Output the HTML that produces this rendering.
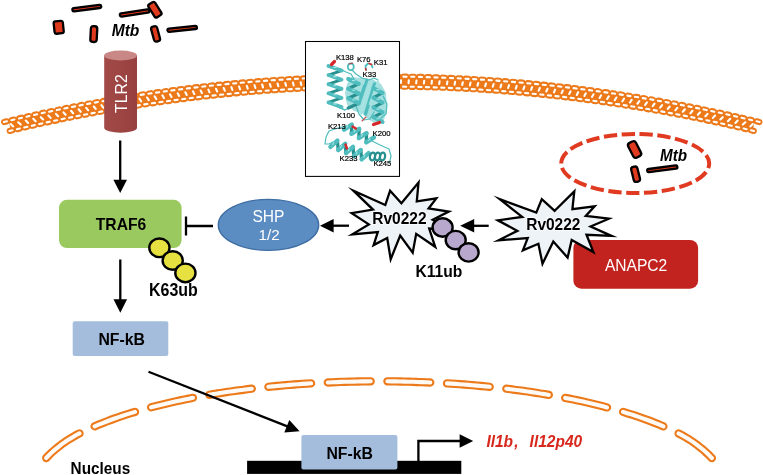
<!DOCTYPE html>
<html>
<head>
<meta charset="utf-8">
<title>Rv0222 signalling diagram</title>
<style>
html,body{margin:0;padding:0;background:#fff;}
body{width:763px;height:475px;overflow:hidden;font-family:"Liberation Sans",sans-serif;}
svg{display:block;position:absolute;left:0;top:0;will-change:transform;}
text{font-family:"Liberation Sans",sans-serif;}
.b{font-weight:bold;font-size:15.5px;fill:#000;}
.bi{font-weight:bold;font-style:italic;font-size:15.2px;fill:#000;}
.k{font-size:7.7px;fill:#000;stroke:#000;stroke-width:0.2px;}
</style>
</head>
<body>
<svg width="763" height="475" viewBox="0 0 763 475">
<defs>
<linearGradient id="cyl" x1="0" x2="1" y1="0" y2="0">
<stop offset="0" stop-color="#A34A48"/><stop offset="0.5" stop-color="#9C4543"/><stop offset="1" stop-color="#97403F"/>
</linearGradient>
</defs>
<rect width="763" height="475" fill="#fff"/>

<!-- plasma membrane -->
<g id="membrane">
<path d="M9.8 125.8A1585.0 1585.0 0 0 1 753.7 125.8" fill="none" stroke="#EC7A1A" stroke-width="9.6" stroke-linecap="butt"/>
<path d="M4.2 122.0L6.6 121.4M759.3 122.0L756.9 121.4M11.8 120.1L14.1 119.6M751.7 120.1L749.4 119.6M19.3 118.4L21.6 117.8M744.2 118.4L741.9 117.8M26.9 116.6L29.2 116.1M736.6 116.6L734.3 116.1M34.4 114.9L36.8 114.4M729.1 114.9L726.7 114.4M42.0 113.2L44.3 112.7M721.5 113.2L719.2 112.7M49.6 111.6L51.9 111.1M713.9 111.6L711.6 111.1M57.2 110.0L59.5 109.5M706.3 110.0L704.0 109.5M64.8 108.4L67.1 107.9M698.7 108.4L696.4 107.9M72.4 106.9L74.7 106.4M691.1 106.9L688.8 106.4M80.0 105.4L82.3 104.9M683.5 105.4L681.2 104.9M87.6 103.9L89.9 103.5M675.9 103.9L673.6 103.5M95.2 102.5L97.6 102.1M668.3 102.5L665.9 102.1M102.8 101.2L105.2 100.7M660.7 101.2L658.3 100.7M110.5 99.8L112.8 99.4M653.0 99.8L650.7 99.4M118.1 98.5L120.5 98.1M645.4 98.5L643.0 98.1M125.8 97.2L128.1 96.9M637.7 97.2L635.4 96.9M133.4 96.0L135.8 95.6M630.1 96.0L627.7 95.6M141.1 94.8L143.5 94.5M622.4 94.8L620.0 94.5M148.8 93.7L151.1 93.3M614.7 93.7L612.4 93.3M156.4 92.5L158.8 92.2M607.1 92.5L604.7 92.2M164.1 91.5L166.5 91.1M599.4 91.5L597.0 91.1M171.8 90.4L174.2 90.1M591.7 90.4L589.3 90.1M179.5 89.4L181.9 89.1M584.0 89.4L581.6 89.1M187.2 88.4L189.6 88.2M576.3 88.4L573.9 88.2M194.9 87.5L197.3 87.2M568.6 87.5L566.2 87.2M202.6 86.6L205.0 86.4M560.9 86.6L558.5 86.4M210.3 85.8L212.7 85.5M553.2 85.8L550.8 85.5M218.0 85.0L220.4 84.7M545.5 85.0L543.1 84.7M225.7 84.2L228.1 83.9M537.8 84.2L535.4 83.9M233.4 83.4L235.8 83.2M530.1 83.4L527.7 83.2M241.2 82.7L243.5 82.5M522.3 82.7L520.0 82.5M248.9 82.1L251.3 81.9M514.6 82.1L512.2 81.9M256.6 81.4L259.0 81.2M506.9 81.4L504.5 81.2M264.3 80.8L266.7 80.7M499.2 80.8L496.8 80.7M272.1 80.3L274.5 80.1M491.4 80.3L489.0 80.1M279.8 79.8L282.2 79.6M483.7 79.8L481.3 79.6M287.6 79.3L289.9 79.2M475.9 79.3L473.6 79.2M295.3 78.9L297.7 78.7M468.2 78.9L465.8 78.7M303.0 78.4L305.4 78.3M460.5 78.4L458.1 78.3M310.8 78.1L313.2 78.0M452.7 78.1L450.3 78.0M318.5 77.8L320.9 77.7M445.0 77.8L442.6 77.7M326.3 77.5L328.7 77.4M437.2 77.5L434.8 77.4M334.0 77.2L336.4 77.1M429.5 77.2L427.1 77.1M341.8 77.0L344.2 76.9M421.7 77.0L419.3 76.9M349.5 76.8L351.9 76.8M414.0 76.8L411.6 76.8M357.3 76.7L359.7 76.7M406.2 76.7L403.8 76.7M365.0 76.6L367.4 76.6M398.5 76.6L396.1 76.6M372.8 76.5L375.2 76.5M390.7 76.5L388.3 76.5M380.6 76.5L382.9 76.5M9.8 130.9L12.2 130.3M753.7 130.9L751.3 130.3M17.3 129.1L19.6 128.6M746.2 129.1L743.9 128.6M24.7 127.4L27.0 126.8M738.8 127.4L736.5 126.8M32.1 125.7L34.5 125.1M731.4 125.7L729.0 125.1M39.6 124.0L41.9 123.5M723.9 124.0L721.6 123.5M47.0 122.4L49.4 121.9M716.5 122.4L714.1 121.9M54.5 120.8L56.9 120.3M709.0 120.8L706.6 120.3M62.0 119.2L64.3 118.7M701.5 119.2L699.2 118.7M69.5 117.7L71.8 117.2M694.0 117.7L691.7 117.2M77.0 116.2L79.3 115.7M686.5 116.2L684.2 115.7M84.5 114.7L86.8 114.3M679.0 114.7L676.7 114.3M92.0 113.3L94.3 112.9M671.5 113.3L669.2 112.9M99.5 111.9L101.8 111.5M664.0 111.9L661.7 111.5M107.0 110.6L109.4 110.2M656.5 110.6L654.1 110.2M114.5 109.3L116.9 108.9M649.0 109.3L646.6 108.9M122.1 108.0L124.4 107.6M641.4 108.0L639.1 107.6M129.6 106.8L132.0 106.4M633.9 106.8L631.5 106.4M137.1 105.6L139.5 105.2M626.4 105.6L624.0 105.2M144.7 104.4L147.1 104.0M618.8 104.4L616.4 104.0M152.2 103.3L154.6 102.9M611.3 103.3L608.9 102.9M159.8 102.2L162.2 101.8M603.7 102.2L601.3 101.8M167.4 101.1L169.7 100.8M596.1 101.1L593.8 100.8M174.9 100.1L177.3 99.8M588.6 100.1L586.2 99.8M182.5 99.1L184.9 98.8M581.0 99.1L578.6 98.8M190.1 98.2L192.5 97.9M573.4 98.2L571.0 97.9M197.7 97.3L200.0 97.0M565.8 97.3L563.5 97.0M205.3 96.4L207.6 96.1M558.2 96.4L555.9 96.1M212.8 95.6L215.2 95.3M550.7 95.6L548.3 95.3M220.4 94.8L222.8 94.5M543.1 94.8L540.7 94.5M228.0 94.0L230.4 93.8M535.5 94.0L533.1 93.8M235.6 93.3L238.0 93.0M527.9 93.3L525.5 93.0M243.2 92.6L245.6 92.4M520.3 92.6L517.9 92.4M250.9 91.9L253.3 91.7M512.6 91.9L510.2 91.7M258.5 91.3L260.9 91.1M505.0 91.3L502.6 91.1M266.1 90.7L268.5 90.6M497.4 90.7L495.0 90.6M273.7 90.2L276.1 90.0M489.8 90.2L487.4 90.0M281.3 89.7L283.7 89.5M482.2 89.7L479.8 89.5M289.0 89.2L291.3 89.1M474.5 89.2L472.2 89.1M296.6 88.8L299.0 88.7M466.9 88.8L464.5 88.7M304.2 88.4L306.6 88.3M459.3 88.4L456.9 88.3M311.8 88.0L314.2 87.9M451.7 88.0L449.3 87.9M319.5 87.7L321.9 87.6M444.0 87.7L441.6 87.6M327.1 87.4L329.5 87.4M436.4 87.4L434.0 87.4M334.7 87.2L337.1 87.1M428.8 87.2L426.4 87.1M342.4 87.0L344.8 86.9M421.1 87.0L418.7 86.9M350.0 86.8L352.4 86.8M413.5 86.8L411.1 86.8M357.6 86.7L360.0 86.6M405.9 86.7L403.5 86.6M365.3 86.6L367.7 86.6M398.2 86.6L395.8 86.6M372.9 86.5L375.3 86.5M390.6 86.5L388.2 86.5M380.6 86.5L382.9 86.5" fill="none" stroke="#EC7A1A" stroke-width="6.3" stroke-linecap="round"/>
<path d="M3.9 122.1L6.9 121.3M9.5 131.0L12.5 130.3M759.6 122.1L756.6 121.3M754.0 131.0L751.0 130.3M11.4 120.2L14.4 119.5M16.9 129.2L19.9 128.5M752.1 120.2L749.1 119.5M746.6 129.2L743.6 128.5M19.0 118.4L22.0 117.7M24.3 127.5L27.4 126.8M744.5 118.4L741.5 117.7M739.2 127.5L736.1 126.8M26.5 116.7L29.5 116.0M31.8 125.7L34.8 125.1M737.0 116.7L734.0 116.0M731.7 125.7L728.7 125.1M34.1 115.0L37.1 114.3M39.2 124.1L42.3 123.4M729.4 115.0L726.4 114.3M724.3 124.1L721.2 123.4M41.7 113.3L44.7 112.6M46.7 122.4L49.7 121.8M721.8 113.3L718.8 112.6M716.8 122.4L713.8 121.8M49.2 111.7L52.3 111.0M54.2 120.8L57.2 120.2M714.3 111.7L711.2 111.0M709.3 120.8L706.3 120.2M56.8 110.1L59.9 109.4M61.6 119.3L64.7 118.6M706.7 110.1L703.6 109.4M701.9 119.3L698.8 118.6M64.4 108.5L67.5 107.9M69.1 117.7L72.2 117.1M699.1 108.5L696.0 107.9M694.4 117.7L691.3 117.1M72.0 107.0L75.1 106.4M76.6 116.2L79.7 115.6M691.5 107.0L688.4 106.4M686.9 116.2L683.8 115.6M79.6 105.5L82.7 104.9M84.1 114.8L87.2 114.2M683.9 105.5L680.8 104.9M679.4 114.8L676.3 114.2M87.2 104.0L90.3 103.4M91.6 113.4L94.7 112.8M676.3 104.0L673.2 103.4M671.9 113.4L668.8 112.8M94.9 102.6L97.9 102.0M99.1 112.0L102.2 111.4M668.6 102.6L665.6 102.0M664.4 112.0L661.3 111.4M102.5 101.2L105.6 100.7M106.7 110.6L109.7 110.1M661.0 101.2L657.9 100.7M656.8 110.6L653.8 110.1M110.1 99.9L113.2 99.3M114.2 109.3L117.2 108.8M653.4 99.9L650.3 99.3M649.3 109.3L646.3 108.8M117.8 98.6L120.8 98.1M121.7 108.0L124.8 107.5M645.7 98.6L642.7 98.1M641.8 108.0L638.7 107.5M125.4 97.3L128.5 96.8M129.2 106.8L132.3 106.3M638.1 97.3L635.0 96.8M634.3 106.8L631.2 106.3M133.1 96.1L136.1 95.6M136.8 105.6L139.8 105.1M630.4 96.1L627.4 95.6M626.7 105.6L623.7 105.1M140.7 94.9L143.8 94.4M144.3 104.4L147.4 104.0M622.8 94.9L619.7 94.4M619.2 104.4L616.1 104.0M148.4 93.7L151.5 93.3M151.9 103.3L155.0 102.9M615.1 93.7L612.0 93.3M611.6 103.3L608.5 102.9M156.1 92.6L159.2 92.2M159.4 102.2L162.5 101.8M607.4 92.6L604.3 92.2M604.1 102.2L601.0 101.8M163.8 91.5L166.8 91.1M167.0 101.2L170.1 100.7M599.7 91.5L596.7 91.1M596.5 101.2L593.4 100.7M171.4 90.5L174.5 90.1M174.6 100.1L177.7 99.7M592.1 90.5L589.0 90.1M588.9 100.1L585.8 99.7M179.1 89.5L182.2 89.1M182.2 99.2L185.2 98.8M584.4 89.5L581.3 89.1M581.3 99.2L578.3 98.8M186.8 88.5L189.9 88.1M189.7 98.2L192.8 97.8M576.7 88.5L573.6 88.1M573.8 98.2L570.7 97.8M194.5 87.6L197.6 87.2M197.3 97.3L200.4 96.9M569.0 87.6L565.9 87.2M566.2 97.3L563.1 96.9M202.2 86.7L205.3 86.3M204.9 96.4L208.0 96.1M561.3 86.7L558.2 86.3M558.6 96.4L555.5 96.1M209.9 85.8L213.0 85.5M212.5 95.6L215.6 95.3M553.6 85.8L550.5 85.5M551.0 95.6L547.9 95.3M217.7 85.0L220.7 84.7M220.1 94.8L223.2 94.5M545.8 85.0L542.8 84.7M543.4 94.8L540.3 94.5M225.4 84.2L228.5 83.9M227.7 94.0L230.8 93.7M538.1 84.2L535.0 83.9M535.8 94.0L532.7 93.7M233.1 83.5L236.2 83.2M235.3 93.3L238.4 93.0M530.4 83.5L527.3 83.2M528.2 93.3L525.1 93.0M240.8 82.8L243.9 82.5M242.9 92.6L246.0 92.3M522.7 82.8L519.6 82.5M520.6 92.6L517.5 92.3M248.5 82.1L251.6 81.8M250.5 92.0L253.6 91.7M515.0 82.1L511.9 81.8M513.0 92.0L509.9 91.7M256.3 81.5L259.4 81.2M258.1 91.3L261.2 91.1M507.2 81.5L504.1 81.2M505.4 91.3L502.3 91.1M264.0 80.9L267.1 80.6M265.7 90.8L268.8 90.5M499.5 80.9L496.4 80.6M497.8 90.8L494.7 90.5M271.7 80.3L274.8 80.1M273.4 90.2L276.5 90.0M491.8 80.3L488.7 80.1M490.1 90.2L487.0 90.0M279.5 79.8L282.6 79.6M281.0 89.7L284.1 89.5M484.0 79.8L480.9 79.6M482.5 89.7L479.4 89.5M287.2 79.3L290.3 79.1M288.6 89.2L291.7 89.1M476.3 79.3L473.2 79.1M474.9 89.2L471.8 89.1M294.9 78.9L298.0 78.7M296.2 88.8L299.3 88.7M468.6 78.9L465.5 78.7M467.3 88.8L464.2 88.7M302.7 78.5L305.8 78.3M303.9 88.4L307.0 88.3M460.8 78.5L457.7 78.3M459.6 88.4L456.5 88.3M310.4 78.1L313.5 78.0M311.5 88.1L314.6 87.9M453.1 78.1L450.0 78.0M452.0 88.1L448.9 87.9M318.2 77.8L321.3 77.6M319.1 87.7L322.2 87.6M445.3 77.8L442.2 77.6M444.4 87.7L441.3 87.6M325.9 77.5L329.0 77.4M326.7 87.5L329.8 87.4M437.6 77.5L434.5 77.4M436.8 87.5L433.7 87.4M333.7 77.2L336.8 77.1M334.4 87.2L337.5 87.1M429.8 77.2L426.7 77.1M429.1 87.2L426.0 87.1M341.4 77.0L344.5 76.9M342.0 87.0L345.1 86.9M422.1 77.0L419.0 76.9M421.5 87.0L418.4 86.9M349.2 76.8L352.3 76.8M349.7 86.8L352.8 86.8M414.3 76.8L411.2 76.8M413.8 86.8L410.7 86.8M356.9 76.7L360.0 76.6M357.3 86.7L360.4 86.6M406.6 76.7L403.5 76.6M406.2 86.7L403.1 86.6M364.7 76.6L367.8 76.6M364.9 86.6L368.0 86.6M398.8 76.6L395.7 76.6M398.6 86.6L395.5 86.6M372.4 76.5L375.5 76.5M372.6 86.5L375.7 86.5M391.1 76.5L388.0 76.5M390.9 86.5L387.8 86.5M380.2 76.5L383.3 76.5M380.2 86.5L383.3 86.5" fill="none" stroke="#fff" stroke-width="2.1" stroke-linecap="round"/>
<path d="M10.7 124.1L13.2 126.4M752.8 124.1L750.3 126.4M18.2 122.3L20.7 124.6M745.3 122.3L742.8 124.6M25.8 120.6L28.1 122.9M737.7 120.6L735.4 122.9M33.3 118.8L35.6 121.2M730.2 118.8L727.9 121.2M40.8 117.2L43.1 119.5M722.7 117.2L720.4 119.5M48.4 115.5L50.6 117.9M715.1 115.5L712.9 117.9M55.9 113.9L58.1 116.3M707.6 113.9L705.4 116.3M63.5 112.4L65.6 114.8M700.0 112.4L697.9 114.8M71.0 110.8L73.1 113.3M692.5 110.8L690.4 113.3M78.6 109.3L80.7 111.8M684.9 109.3L682.8 111.8M86.2 107.9L88.2 110.3M677.3 107.9L675.3 110.3M93.8 106.5L95.7 108.9M669.7 106.5L667.8 108.9M101.4 105.1L103.3 107.6M662.1 105.1L660.2 107.6M109.0 103.7L110.8 106.2M654.5 103.7L652.7 106.2M116.6 102.4L118.4 105.0M646.9 102.4L645.1 105.0M124.2 101.1L126.0 103.7M639.3 101.1L637.5 103.7M131.8 99.9L133.5 102.5M631.7 99.9L630.0 102.5M139.5 98.7L141.1 101.3M624.0 98.7L622.4 101.3M147.1 97.5L148.7 100.1M616.4 97.5L614.8 100.1M154.7 96.4L156.3 99.0M608.8 96.4L607.2 99.0M162.4 95.3L163.9 98.0M601.1 95.3L599.6 98.0M170.0 94.3L171.5 96.9M593.5 94.3L592.0 96.9M177.7 93.3L179.1 95.9M585.8 93.3L584.4 95.9M185.4 92.3L186.7 95.0M578.1 92.3L576.8 95.0M193.0 91.4L194.3 94.0M570.5 91.4L569.2 94.0M200.7 90.5L201.9 93.1M562.8 90.5L561.6 93.1M208.4 89.6L209.5 92.3M555.1 89.6L554.0 92.3M216.0 88.8L217.2 91.5M547.5 88.8L546.3 91.5M223.7 88.0L224.8 90.7M539.8 88.0L538.7 90.7M231.4 87.2L232.4 90.0M532.1 87.2L531.1 90.0M239.1 86.5L240.1 89.3M524.4 86.5L523.4 89.3M246.8 85.9L247.7 88.6M516.7 85.9L515.8 88.6M254.5 85.2L255.4 88.0M509.0 85.2L508.1 88.0M262.2 84.6L263.0 87.4M501.3 84.6L500.5 87.4M269.9 84.0L270.7 86.8M493.6 84.0L492.8 86.8M277.6 83.5L278.3 86.3M485.9 83.5L485.2 86.3M285.3 83.0L286.0 85.8M478.2 83.0L477.5 85.8M293.0 82.6L293.6 85.4M470.5 82.6L469.9 85.4M300.7 82.2L301.3 84.9M462.8 82.2L462.2 84.9M308.4 81.8L308.9 84.6M455.1 81.8L454.6 84.6M316.1 81.5L316.6 84.2M447.4 81.5L446.9 84.2M323.9 81.2L324.3 83.9M439.6 81.2L439.2 83.9M331.6 80.9L331.9 83.7M431.9 80.9L431.6 83.7M339.3 80.7L339.6 83.5M424.2 80.7L423.9 83.5M347.0 80.5L347.3 83.3M416.5 80.5L416.2 83.3M354.7 80.3L354.9 83.1M408.8 80.3L408.6 83.1M362.5 80.2L362.6 83.0M401.0 80.2L400.9 83.0M370.2 80.1L370.3 82.9M393.3 80.1L393.2 82.9M377.9 80.1L377.9 82.9M385.6 80.1L385.6 82.9" fill="none" stroke="#fff" stroke-width="2.1" stroke-linecap="round"/>
</g>

<!-- nuclear envelope -->
<g id="nucleus">
<path d="M46.2 458.0L49.1 455.0L52.1 452.1L55.3 449.4L58.5 446.8L61.8 444.2L65.2 441.8L68.7 439.6L72.2 437.4L75.8 435.3L79.5 433.4M94.6 426.3L98.6 424.7L102.6 423.1L106.6 421.5L110.6 420.0L114.6 418.5L118.7 417.1L122.7 415.7L126.8 414.4L130.9 413.1L135.0 411.9M151.1 407.3L155.2 406.3L159.4 405.2L163.6 404.2L167.7 403.2L171.9 402.2L176.1 401.3L180.3 400.4L184.5 399.5L188.7 398.7L192.9 397.8M209.3 394.8L213.6 394.1L217.8 393.4L222.0 392.8L226.3 392.1L230.5 391.5L234.8 390.9L239.0 390.3L243.3 389.8L247.5 389.2L251.8 388.7M268.4 386.8L272.7 386.4L276.9 386.0L281.2 385.6L285.5 385.2L289.7 384.9L294.0 384.5L298.3 384.2L302.6 383.9L306.9 383.6L311.1 383.3M327.8 382.5L332.1 382.3L336.4 382.1L340.7 381.9L345.0 381.8L349.3 381.7L353.5 381.6L357.8 381.5L362.1 381.4L366.4 381.4L370.7 381.3M387.4 381.3L391.7 381.4L396.0 381.4L400.3 381.5L404.6 381.6L408.8 381.7L413.1 381.8L417.4 382.0L421.7 382.1L426.0 382.3L430.3 382.5M447.0 383.4L451.2 383.6L455.5 383.9L459.8 384.2L464.1 384.5L468.4 384.9L472.6 385.2L476.9 385.6L481.2 386.0L485.4 386.4L489.7 386.8M506.3 388.7L510.6 389.2L514.8 389.8L519.1 390.3L523.3 390.9L527.6 391.5L531.8 392.1L536.1 392.8L540.3 393.5L544.5 394.1L548.8 394.9M565.2 397.9L569.4 398.7L573.6 399.5L577.8 400.4L582.0 401.3L586.2 402.3L590.4 403.2L594.5 404.2L598.7 405.2L602.9 406.3L607.0 407.4M623.1 411.9L627.2 413.2L631.3 414.4L635.4 415.8L639.4 417.1L643.5 418.6L647.5 420.0L651.5 421.5L655.5 423.1L659.5 424.7L663.4 426.4M678.6 433.5L682.3 435.4L685.9 437.5L689.4 439.6L692.9 441.9L696.3 444.3L699.6 446.9L702.9 449.5L706.0 452.3L709.0 455.1L711.9 458.1" fill="none" stroke="#EC7A1A" stroke-width="8.3" stroke-linecap="round" stroke-linejoin="round"/>
<path d="M46.2 458.0L49.1 455.0L52.1 452.1L55.3 449.4L58.5 446.8L61.8 444.2L65.2 441.8L68.7 439.6L72.2 437.4L75.8 435.3L79.5 433.4M94.6 426.3L98.6 424.7L102.6 423.1L106.6 421.5L110.6 420.0L114.6 418.5L118.7 417.1L122.7 415.7L126.8 414.4L130.9 413.1L135.0 411.9M151.1 407.3L155.2 406.3L159.4 405.2L163.6 404.2L167.7 403.2L171.9 402.2L176.1 401.3L180.3 400.4L184.5 399.5L188.7 398.7L192.9 397.8M209.3 394.8L213.6 394.1L217.8 393.4L222.0 392.8L226.3 392.1L230.5 391.5L234.8 390.9L239.0 390.3L243.3 389.8L247.5 389.2L251.8 388.7M268.4 386.8L272.7 386.4L276.9 386.0L281.2 385.6L285.5 385.2L289.7 384.9L294.0 384.5L298.3 384.2L302.6 383.9L306.9 383.6L311.1 383.3M327.8 382.5L332.1 382.3L336.4 382.1L340.7 381.9L345.0 381.8L349.3 381.7L353.5 381.6L357.8 381.5L362.1 381.4L366.4 381.4L370.7 381.3M387.4 381.3L391.7 381.4L396.0 381.4L400.3 381.5L404.6 381.6L408.8 381.7L413.1 381.8L417.4 382.0L421.7 382.1L426.0 382.3L430.3 382.5M447.0 383.4L451.2 383.6L455.5 383.9L459.8 384.2L464.1 384.5L468.4 384.9L472.6 385.2L476.9 385.6L481.2 386.0L485.4 386.4L489.7 386.8M506.3 388.7L510.6 389.2L514.8 389.8L519.1 390.3L523.3 390.9L527.6 391.5L531.8 392.1L536.1 392.8L540.3 393.5L544.5 394.1L548.8 394.9M565.2 397.9L569.4 398.7L573.6 399.5L577.8 400.4L582.0 401.3L586.2 402.3L590.4 403.2L594.5 404.2L598.7 405.2L602.9 406.3L607.0 407.4M623.1 411.9L627.2 413.2L631.3 414.4L635.4 415.8L639.4 417.1L643.5 418.6L647.5 420.0L651.5 421.5L655.5 423.1L659.5 424.7L663.4 426.4M678.6 433.5L682.3 435.4L685.9 437.5L689.4 439.6L692.9 441.9L696.3 444.3L699.6 446.9L702.9 449.5L706.0 452.3L709.0 455.1L711.9 458.1" fill="none" stroke="#FDFAF6" stroke-width="4.1" stroke-linecap="round" stroke-linejoin="round"/>
</g>

<!-- Mtb rods (top left) -->
<g id="mtb1" stroke="#000" stroke-width="2.3" fill="#E03A1E" stroke-linejoin="round">
<rect x="-14.5" y="-1.6" width="29" height="3.2" rx="1.6" transform="translate(86.8 8.1) rotate(-7.5)"/>
<rect x="-4.6" y="-6.2" width="9.2" height="12.4" rx="1.8" transform="translate(58.7 27.3) rotate(-6)"/>
<rect x="-3.2" y="-7.9" width="6.4" height="15.8" rx="2.6" transform="translate(93.8 34.1) rotate(3)"/>
<rect x="-14.8" y="-1.6" width="29.6" height="3.2" rx="1.6" transform="translate(134.5 13) rotate(-8.5)"/>
<rect x="-3.9" y="-7.6" width="7.8" height="15.2" rx="2" transform="translate(154.9 9.7) rotate(-32)"/>
<rect x="-3.1" y="-7.7" width="6.2" height="15.4" rx="2.4" transform="translate(155.6 33.9) rotate(-15)"/>
<rect x="-14.8" y="-1.6" width="29.6" height="3.2" rx="1.6" transform="translate(182.2 28.8) rotate(-6)"/>
</g>
<text class="bi" transform="translate(111.7 35.9) scale(1.025 1.1)">Mtb</text>

<!-- TLR2 cylinder -->
<g id="tlr2">
<path d="M104.2 55.5 V127.8 A16.4 5 0 0 0 137 127.8 V55.5 Z" fill="url(#cyl)"/>
<ellipse cx="120.6" cy="55.5" rx="16.4" ry="5" fill="#C98886"/>
<text transform="translate(127.2 113) rotate(-90) scale(1 1.08)" font-size="15.9" fill="#fff">TLR2</text>
</g>

<!-- inset protein box -->
<g id="inset">
<rect x="305.5" y="41.5" width="94" height="134.9" fill="#fff" stroke="#000" stroke-width="1.05"/>
<path d="M347 84L351 77L362 78L372 79L381 84L386 93L387 109L384 120L376 124L368 119L362 113L354 111L347 105L345 93Z" fill="#A6DFDF"/>
<path d="M340.0 69.0L346.0 72.0L351.0 74.0L354.0 79.0" fill="none" stroke="#4FBDBE" stroke-width="1.3" stroke-linecap="round" stroke-linejoin="round"/>
<path d="M352.0 70.0L356.0 74.0L362.0 78.0L369.0 80.0L374.0 78.0L378.0 80.0" fill="none" stroke="#4FBDBE" stroke-width="1.2" stroke-linecap="round" stroke-linejoin="round"/>
<path d="M338.0 107.0L345.0 110.0L352.0 106.0" fill="none" stroke="#4FBDBE" stroke-width="1.4" stroke-linecap="round" stroke-linejoin="round"/>
<path d="M356.0 106.0L359.0 114.0L364.0 120.0L370.0 119.0L374.0 112.0" fill="none" stroke="#4FBDBE" stroke-width="1.2" stroke-linecap="round" stroke-linejoin="round"/>
<path d="M383.0 96.0L387.0 104.0L386.0 114.0L381.0 118.0" fill="none" stroke="#4FBDBE" stroke-width="1.3" stroke-linecap="round" stroke-linejoin="round"/>
<path d="M362.0 84.0L358.0 92.0L362.0 100.0" fill="none" stroke="#A5E3E3" stroke-width="1.2" stroke-linecap="round" stroke-linejoin="round"/>
<path d="M341.6 70.6L328.4 75.1M341.6 79.7L328.4 84.2M341.6 88.8L328.4 93.3M341.6 97.9L328.4 102.4" fill="none" stroke="#27908F" stroke-width="2.8" stroke-linecap="round"/>
<path d="M328.4 66.0L341.6 70.6M328.4 75.1L341.6 79.7M328.4 84.2L341.6 88.8M328.4 93.3L341.6 97.9M328.4 102.4L341.6 107.0" fill="none" stroke="#4FBDBE" stroke-width="3.7" stroke-linecap="round"/>
<path d="M336.2 67.5l-2.4 0.0M336.2 76.6l-2.4 0.0M336.2 85.7l-2.4 0.0M336.2 94.8l-2.4 0.0M336.2 103.9l-2.4 0.0" fill="none" stroke="#A5E3E3" stroke-width="1.1" stroke-linecap="round"/>
<path d="M331.5 64.5L334.5 61.5" fill="none" stroke="#D8262A" stroke-width="3.2" stroke-linecap="round" stroke-linejoin="round" stroke-linecap="butt"/>
<ellipse cx="350.8" cy="66.8" rx="3" ry="3.4" fill="none" stroke="#4FBDBE" stroke-width="1.8"/>
<path d="M349.0 64.0L352.5 63.2" fill="none" stroke="#B0484C" stroke-width="1.2" stroke-linecap="round" stroke-linejoin="round"/>
<path d="M366.0 70.0L365.5 66.0L368.0 63.5L371.5 64.5L372.5 67.5" fill="none" stroke="#4FBDBE" stroke-width="1.8" stroke-linecap="round" stroke-linejoin="round"/>
<path d="M369.0 63.4L371.5 64.5" fill="none" stroke="#D8262A" stroke-width="1.5" stroke-linecap="round" stroke-linejoin="round"/>
<path d="M365.6 68.5L366.0 70.0" fill="none" stroke="#D8262A" stroke-width="1.5" stroke-linecap="round" stroke-linejoin="round"/>
<path d="M358.7 83.8L348.3 88.7M358.7 93.5L348.3 98.3M358.7 103.2L348.3 108.0" fill="none" stroke="#27908F" stroke-width="3.2" stroke-linecap="round"/>
<path d="M348.3 79.0L358.7 83.8M348.3 88.7L358.7 93.5M348.3 98.3L358.7 103.2" fill="none" stroke="#4FBDBE" stroke-width="4.2" stroke-linecap="round"/>
<path d="M354.7 80.6l-2.4 0.0M354.7 90.3l-2.4 0.0M354.7 100.0l-2.4 0.0" fill="none" stroke="#A5E3E3" stroke-width="1.1" stroke-linecap="round"/>
<path d="M371.0 82.0L361.0 113.0" fill="none" stroke="#A5E3E3" stroke-width="3.4" stroke-linecap="round" stroke-linejoin="round"/>
<path d="M374.5 84.0L365.5 114.0" fill="none" stroke="#4FBDBE" stroke-width="3.4" stroke-linecap="round" stroke-linejoin="round"/>
<path d="M367.0 80.0L359.0 104.0" fill="none" stroke="#4FBDBE" stroke-width="2.8" stroke-linecap="round" stroke-linejoin="round"/>
<path d="M378.0 82.0L370.0 104.0" fill="none" stroke="#A5E3E3" stroke-width="2.4" stroke-linecap="round" stroke-linejoin="round"/>
<path d="M364.0 86.0L360.0 98.0" fill="none" stroke="#4FBDBE" stroke-width="2.2" stroke-linecap="round" stroke-linejoin="round"/>
<path d="M382.6 92.9L373.4 97.7M382.6 102.6L373.4 107.4M382.6 112.3L373.4 117.1" fill="none" stroke="#27908F" stroke-width="3.0" stroke-linecap="round"/>
<path d="M373.4 88.0L382.6 92.9M373.4 97.7L382.6 102.6M373.4 107.4L382.6 112.3M373.4 117.1L382.6 122.0" fill="none" stroke="#4FBDBE" stroke-width="4.0" stroke-linecap="round"/>
<path d="M379.2 89.6l-2.4 0.0M379.2 99.3l-2.4 0.0M379.2 109.1l-2.4 0.0M379.2 118.8l-2.4 0.0" fill="none" stroke="#A5E3E3" stroke-width="1.1" stroke-linecap="round"/>
<path d="M373.5 124.5L379.5 122.5" fill="none" stroke="#D8262A" stroke-width="3.2" stroke-linecap="round" stroke-linejoin="round" stroke-linecap="butt"/>
<path d="M346.0 126.0L338.0 128.0L329.0 131.0L326.0 137.0L325.0 144.0L329.0 144.0L333.0 142.0" fill="none" stroke="#4FBDBE" stroke-width="1.2" stroke-linecap="round" stroke-linejoin="round"/>
<path d="M372.0 141.0L380.0 145.0L389.0 149.0L391.0 156.0L389.5 163.0" fill="none" stroke="#4FBDBE" stroke-width="1.2" stroke-linecap="round" stroke-linejoin="round"/>
<path d="M366.0 117.0L362.0 121.0" fill="none" stroke="#C0504D" stroke-width="1.1" stroke-linecap="round" stroke-linejoin="round"/>
<path d="M351.8 124.6L351.4 133.8M359.2 128.9L358.8 138.1M366.6 133.2L366.2 142.4" fill="none" stroke="#27908F" stroke-width="3.3" stroke-linecap="round"/>
<path d="M344.0 129.6L351.8 124.6M351.4 133.8L359.2 128.9M358.8 138.1L366.6 133.2M366.2 142.4L374.0 137.4" fill="none" stroke="#4FBDBE" stroke-width="4.4" stroke-linecap="round"/>
<path d="M347.8 125.6l-1.2 2.1M355.2 129.9l-1.2 2.1M362.6 134.2l-1.2 2.1M370.0 138.5l-1.2 2.1" fill="none" stroke="#A5E3E3" stroke-width="1.1" stroke-linecap="round"/>
<path d="M352.5 126.5L356.0 128.5" fill="none" stroke="#D8262A" stroke-width="2.4" stroke-linecap="round" stroke-linejoin="round" stroke-linecap="butt"/>
<path d="M337.4 140.7L338.2 150.0M345.2 143.8L346.0 153.1M353.0 146.9L353.8 156.2M360.8 150.0L361.6 159.3" fill="none" stroke="#27908F" stroke-width="3.3" stroke-linecap="round"/>
<path d="M330.4 146.9L337.4 140.7M338.2 150.0L345.2 143.8M346.0 153.1L353.0 146.9M353.8 156.2L360.8 150.0M361.6 159.3L368.6 153.1" fill="none" stroke="#4FBDBE" stroke-width="4.4" stroke-linecap="round"/>
<path d="M333.6 142.4l-0.9 2.2M341.4 145.5l-0.9 2.2M349.2 148.6l-0.9 2.2M357.0 151.7l-0.9 2.2M364.8 154.8l-0.9 2.2" fill="none" stroke="#A5E3E3" stroke-width="1.1" stroke-linecap="round"/>
<path d="M345.5 144.5L347.0 148.5" fill="none" stroke="#D8262A" stroke-width="2.4" stroke-linecap="round" stroke-linejoin="round" stroke-linecap="butt"/>
<ellipse cx="372.5" cy="156.5" rx="2.6" ry="4" fill="none" stroke="#27908F" stroke-width="2.2" transform="rotate(12 372.5 156.5)"/>
<ellipse cx="377.5" cy="156.5" rx="2.6" ry="4" fill="none" stroke="#27908F" stroke-width="2.2" transform="rotate(12 377.5 156.5)"/>
<ellipse cx="382.5" cy="156.5" rx="2.6" ry="4" fill="none" stroke="#27908F" stroke-width="2.2" transform="rotate(12 382.5 156.5)"/>
<text class="k" x="335.9" y="59.7">K138</text>
<text class="k" x="356.9" y="61.8">K76</text>
<text class="k" x="373.8" y="65.3">K31</text>
<text class="k" x="362.5" y="76.7">K33</text>
<text class="k" x="337.1" y="117.6">K100</text>
<text class="k" x="327.9" y="128.7">K213</text>
<text class="k" x="372.6" y="135.8">K200</text>
<text class="k" x="339.5" y="160.5">K233</text>
<text class="k" x="373.4" y="166.2">K245</text>
</g>

<!-- arrows -->
<g id="arrows" stroke="#000" stroke-width="2.3" fill="none">
<path d="M120.2 140.5V182"/>
<path d="M120.3 259.5V301"/>
<path d="M186 216.6V235.4M186 226H213"/>
<path d="M349 225.7H331"/>
<path d="M488.7 225.8H471"/>
<path d="M148.5 371.8L288 426.6"/>
<path d="M418.4 461V441H461" stroke-linejoin="miter"/>
</g>
<g id="heads" fill="#000">
<path d="M113.4 179.7H127L120.2 193.1Z"/>
<path d="M113.5 299.3H127.1L120.3 312.8Z"/>
<path d="M320 225.7L333.6 219V232.4Z"/>
<path d="M460.2 225.8L474.2 219.1V232.5Z"/>
<path d="M299.6 431.2L284.3 432.6L289.3 419.9Z"/>
<path d="M473.2 441L459.6 434.3V447.7Z"/>
</g>

<!-- TRAF6 -->
<rect x="59" y="199.8" width="122.6" height="48.3" rx="8" fill="#9ACA5F"/>
<text transform="translate(95.8 229.9) scale(1 1)" class="b" style="font-size:15.65px">TRAF6</text>
<g stroke="#000" stroke-width="2.4" fill="#E6E040">
<ellipse cx="159.4" cy="247.8" rx="10.1" ry="9.3"/>
<ellipse cx="172.7" cy="260.5" rx="10.1" ry="9.3"/>
<ellipse cx="185.4" cy="272.9" rx="10.1" ry="9.3"/>
</g>
<text class="b" transform="translate(149 295.5) scale(1.03 1.14)">K63ub</text>

<!-- SHP -->
<ellipse cx="268.5" cy="224.9" rx="50.2" ry="25.5" fill="#5B8CC2" stroke="#3F6EA4" stroke-width="1.4"/>
<text transform="translate(268.4 221.8) scale(1 1.1)" font-size="15.6" fill="#fff" text-anchor="middle">SHP</text>
<text transform="translate(269.2 239.7)" font-size="15.3" fill="#fff" text-anchor="middle">1/2</text>

<!-- NF-kB cytoplasm -->
<rect x="72.7" y="321.2" width="95.6" height="34.8" rx="2" fill="#A4BDDD"/>
<text class="b" transform="translate(98.4 345.2) scale(1.02 1.12)">NF-kB</text>

<!-- DNA bar + NF-kB nuclear -->
<rect x="247.1" y="460.8" width="214.2" height="13.1" fill="#000"/>
<rect x="301.4" y="435.1" width="96" height="34.5" rx="2" fill="#A4BDDD"/>
<text class="b" transform="translate(326.4 458.9) scale(1.02 1.12)">NF-kB</text>
<text class="b" transform="translate(70.6 473.5) scale(1 1.1)" style="font-size:15.35px">Nucleus</text>
<g font-weight="bold" font-style="italic" font-size="15.5" fill="#D8281D">
<text transform="translate(486.4 447) scale(1 1.1)">Il1b</text>
<text transform="translate(514.3 447) scale(1 1.1)">,</text>
<text transform="translate(529.6 447) scale(1 1.1)">Il12p40</text>
</g>

<!-- Rv0222 bursts -->
<path d="M401.4 203.2L418.5 182.6L416.8 201.5L436.3 198.4L428.6 208.5L448.8 211.5L432.7 219.7L451.1 229.7L429.2 228.5L435.2 246.8L416.2 233.9L412.7 252.6L400.2 235.6L390.7 259.2L387.2 238.0L373.6 245.1L377.8 232.0L352.3 234.3L368.8 224.4L351.7 213.2L373.0 209.6L353.4 190.7L385.3 205.0L390.1 190.7Z" fill="#EEF3F7" stroke="#000" stroke-width="2.3" stroke-linejoin="miter" stroke-miterlimit="10"/>
<text class="b" transform="translate(372.3 224) scale(1 1.1)" style="paint-order:stroke;stroke:#F9FBFD;stroke-width:1.8px;stroke-linejoin:round">Rv0222</text>
<g stroke="#000" stroke-width="2.4" fill="#B8A8CE"><ellipse cx="442.6" cy="227.5" rx="10" ry="9.2"/><ellipse cx="455.7" cy="240.1" rx="10" ry="9.2"/><ellipse cx="468.6" cy="252.4" rx="10" ry="9.2"/></g>
<text class="b" transform="translate(415.5 277) scale(1.01 1.09)">K11ub</text>
<rect x="573.4" y="239.9" width="124.7" height="48.8" rx="8" fill="#C2231E"/>
<text transform="translate(636.1 270.7) scale(1 1)" font-size="15.6" fill="#fff" text-anchor="middle">ANAPC2</text>
<path d="M554.7 210.8L574.3 191.4L572.4 209.2L594.6 206.3L585.8 215.9L608.9 218.7L590.6 226.5L611.6 235.9L586.5 234.8L593.4 252.1L571.7 239.9L567.6 257.6L553.3 241.5L542.5 263.8L538.4 243.8L522.9 250.4L527.7 238.1L498.5 240.3L517.4 230.9L497.8 220.3L522.2 216.9L499.7 199.1L536.3 212.6L541.8 199.1Z" fill="#EEF3F7" stroke="#000" stroke-width="2.3" stroke-linejoin="miter" stroke-miterlimit="10"/>
<text class="b" transform="translate(526.2 230.4) scale(1 1.1)" style="paint-order:stroke;stroke:#F9FBFD;stroke-width:1.8px;stroke-linejoin:round">Rv0222</text>

<!-- dashed Mtb vacuole -->
<ellipse cx="635.2" cy="163.5" rx="74" ry="29.5" fill="none" stroke="#E03A20" stroke-width="4" stroke-dasharray="13.3 4.55" stroke-dashoffset="-9.31"/>
<g stroke="#000" stroke-width="2.3" fill="#E03A1E" stroke-linejoin="round">
<rect x="-4.3" y="-8.2" width="8.6" height="16.4" rx="2.8" transform="translate(634.6 149.5) rotate(-27)"/>
<rect x="-3.2" y="-7.7" width="6.4" height="15.4" rx="2.6" transform="translate(635.6 174.2) rotate(-14)"/>
<rect x="-15.2" y="-1.6" width="30.4" height="3.2" rx="1.6" transform="translate(662.3 168.8) rotate(-7.5)"/>
</g>
<text class="bi" transform="translate(660 160.8) scale(1 1.03)">Mtb</text>

</svg>
</body>
</html>
